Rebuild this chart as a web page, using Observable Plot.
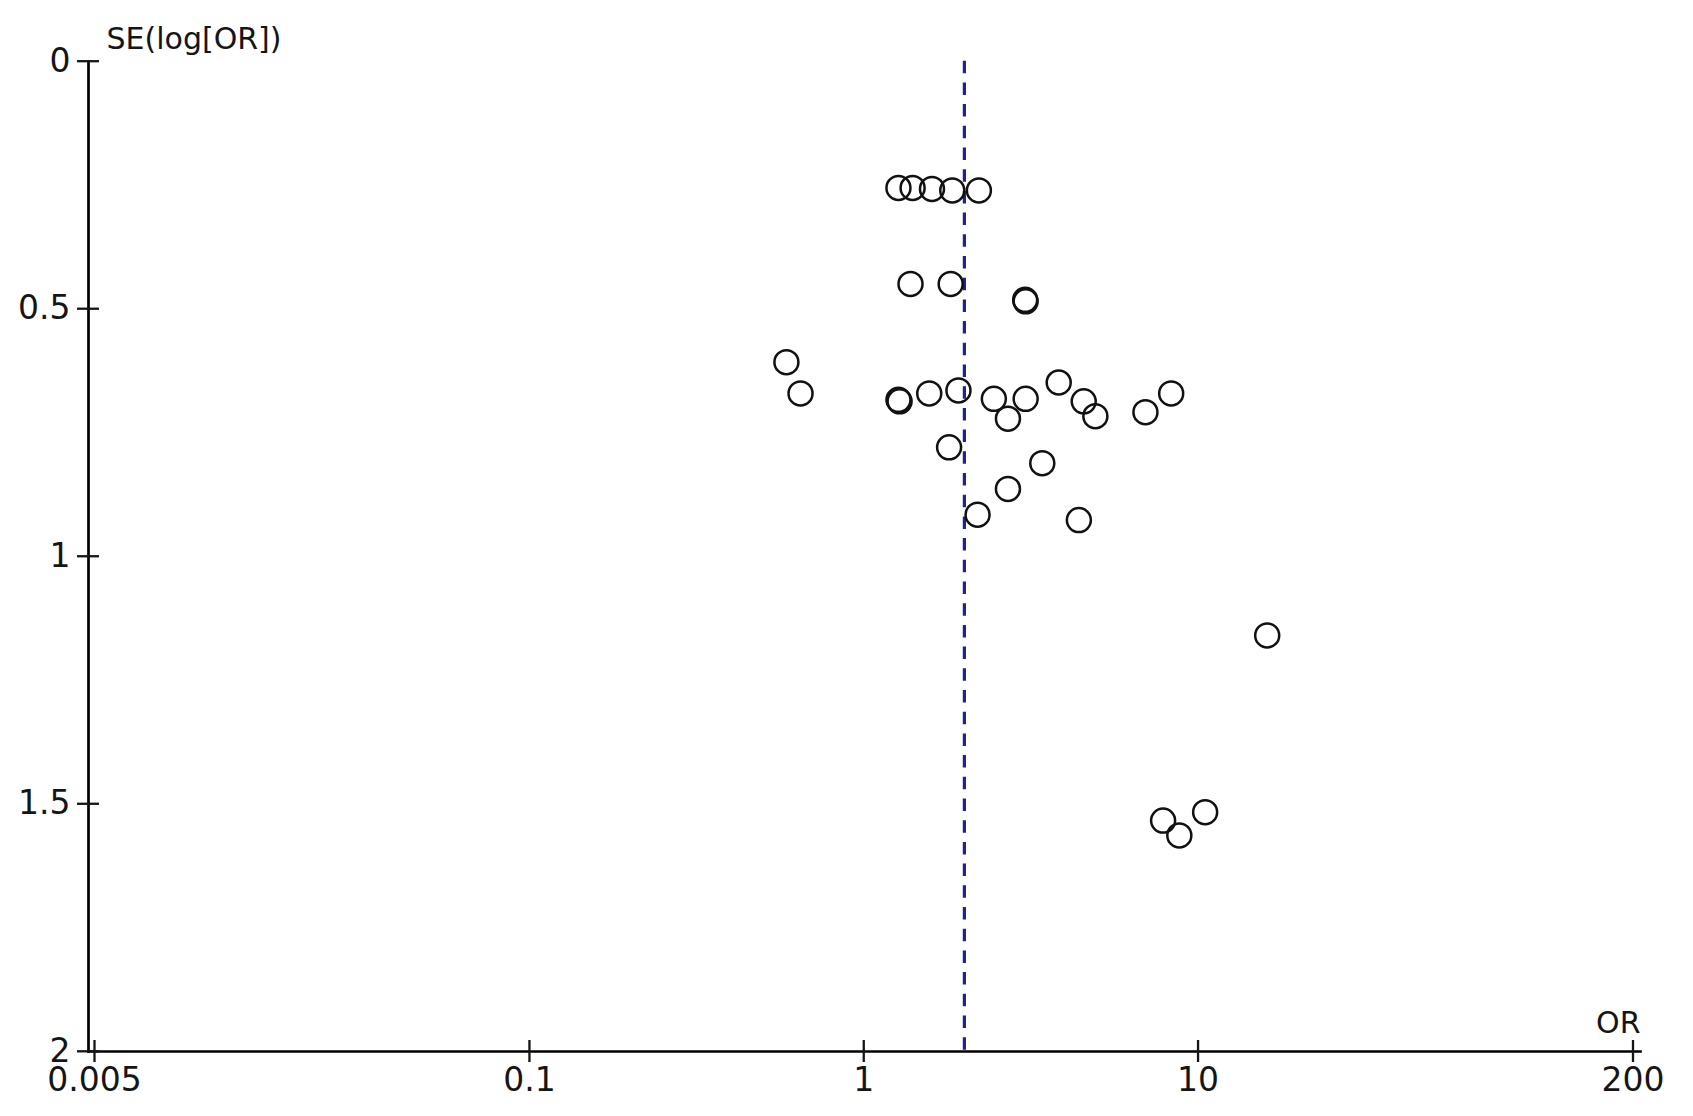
<!DOCTYPE html>
<html>
<head>
<meta charset="utf-8">
<script src="https://cdn.jsdelivr.net/npm/d3@7"></script>
<script src="https://cdn.jsdelivr.net/npm/@observablehq/plot@0.6"></script>
<style>
  html, body { margin: 0; padding: 0; background: #ffffff; }
</style>
</head>
<body>
<div id="chart"></div>
<script>
// Study odds ratios (x) and their standard errors of log(OR) (y)
const oddsRatios = [
  1.27, 1.40, 1.60, 1.84, 2.21,
  1.38, 1.82, 3.04, 3.05,
  0.587, 0.647, 1.27, 1.28, 1.57, 1.92, 2.45, 3.05, 2.70, 3.83, 4.55, 4.93, 6.96, 8.31,
  1.80, 3.42, 2.70, 2.19, 4.40,
  16.1, 7.86, 8.79, 10.5
];
const standardErrors = [
  0.256, 0.256, 0.258, 0.261, 0.261,
  0.450, 0.450, 0.482, 0.485,
  0.608, 0.671, 0.684, 0.687, 0.671, 0.665, 0.682, 0.682, 0.722, 0.649, 0.687, 0.717, 0.709, 0.671,
  0.780, 0.812, 0.864, 0.916, 0.927,
  1.160, 1.534, 1.564, 1.517
];
const pooledOR = [2.0];
const xTicks = [0.005, 0.1, 1, 10, 200];
const xTickLabels = ["0.005", "0.1", "1", "10", "200"];
const yTicks = [0, 0.5, 1, 1.5, 2];
const yTickLabels = ["0", "0.5", "1", "1.5", "2"];
const xLabel = "OR";
const yLabel = "SE(log[OR])";

const studies = oddsRatios.map((or, i) => ({ or, se: standardErrors[i] }));
const xTickRows = xTicks.map((v, i) => ({ v, label: xTickLabels[i] }));
const yTickRows = yTicks.map((v, i) => ({ v, label: yTickLabels[i] }));

const chart = Plot.plot({
  width: 1693,
  height: 1116,
  marginLeft: 88,
  marginTop: 61,
  marginBottom: 65,
  marginRight: 53,
  style: { fontFamily: "'DejaVu Sans', sans-serif", fontSize: "33px", color: "#151515", background: "#ffffff" },
  x: { type: "log", domain: [xTicks[0], xTicks[xTicks.length - 1]], range: [94, 1632.5] },
  y: { domain: [yTicks[0], yTicks[yTicks.length - 1]], range: [60.7, 1050.8] },
  marks: [
    Plot.frame({ anchor: "left", stroke: "#000", strokeWidth: 2.7 }),
    Plot.frame({ anchor: "bottom", stroke: "#000", strokeWidth: 2.7 }),
    Plot.axisX({ ticks: xTicks, tickSize: 22, dy: -11, text: null, label: null, strokeWidth: 2.3 }),
    Plot.text(xTickRows, { x: "v", text: "label", frameAnchor: "bottom", lineAnchor: "top", dy: 16, fontSize: 33, fill: "#151515" }),
    Plot.axisY({ ticks: yTicks, tickSize: 22, dx: 11, text: null, label: null, strokeWidth: 2.3 }),
    Plot.text(yTickRows, { y: "v", text: "label", frameAnchor: "left", textAnchor: "end", lineAnchor: "middle", dx: -18, fontSize: 33, fill: "#151515" }),
    Plot.ruleX(pooledOR, { y1: yTicks[0], y2: yTicks[yTicks.length - 1], stroke: "#1f2390", strokeWidth: 3.2, strokeDasharray: "12.5,9.2" }),
    Plot.dot(studies, { x: "or", y: "se", r: 12, stroke: "#111", strokeWidth: 2.5, fill: "none" }),
    Plot.text([yLabel], { frameAnchor: "top-left", text: d => d, dx: 18, dy: -22, textAnchor: "start", lineAnchor: "middle", fontSize: 30, fill: "#151515" }),
    Plot.text([xLabel], { frameAnchor: "bottom-right", text: d => d, dx: 0, dy: -28, textAnchor: "end", lineAnchor: "middle", fontSize: 30, fill: "#151515" })
  ]
});

document.getElementById("chart").appendChild(chart);
</script>
</body>
</html>
